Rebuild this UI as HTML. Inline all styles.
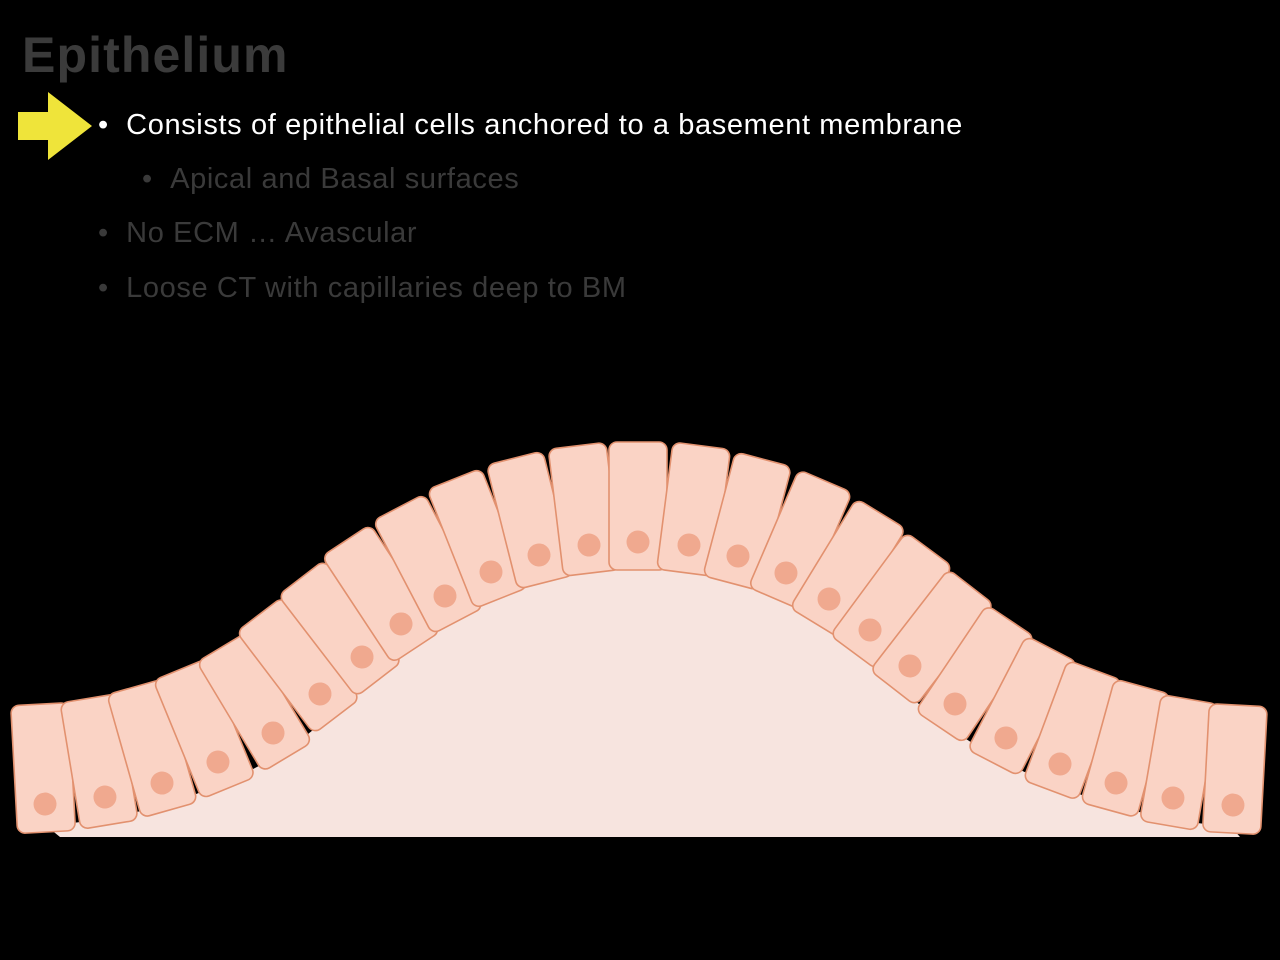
<!DOCTYPE html>
<html><head><style>
html,body{margin:0;padding:0;background:#000;width:1280px;height:960px;overflow:hidden}
body{position:relative;font-family:"Liberation Sans",sans-serif}
.t{position:absolute;white-space:nowrap}
</style></head><body>
<div class="t" style="left:22px;top:26px;font-size:50px;font-weight:bold;color:#3b3b3b;letter-spacing:1.1px">Epithelium</div>
<svg style="position:absolute;left:0;top:0" width="1280" height="960">
<polygon points="18,112 48,112 48,92 92,126 48,160 48,140 18,140" fill="#efe43a"/>
<g id="cells"></g>
</svg>
<div class="t" style="left:98px;top:109px;font-size:29px;color:#fff;letter-spacing:0.62px">•&nbsp;&nbsp;Consists of epithelial cells anchored to a basement membrane</div>
<div class="t" style="left:142px;top:163px;font-size:29px;color:#3a3a3a;letter-spacing:0.62px">•&nbsp;&nbsp;Apical and Basal surfaces</div>
<div class="t" style="left:98px;top:217px;font-size:29px;color:#3a3a3a;letter-spacing:0.62px">•&nbsp;&nbsp;No ECM … Avascular</div>
<div class="t" style="left:98px;top:272px;font-size:29px;color:#3a3a3a;letter-spacing:0.62px">•&nbsp;&nbsp;Loose CT with capillaries deep to BM</div>
<script>
(function(){
var g=document.getElementById('cells');
var N=[[45,804],[105,797],[162,783],[218,762],[273,733],[320,694],[362,657],[401,624],[445,596],[491,572],[539,555],[589,545],[638,542],[689,545],[738,556],[786,573],[829,599],[870,630],[910,666],[955,704],[1006,738],[1060,764],[1116,783],[1173,798],[1233,805]];
var H=128,W=58,top=100,html='',basal=[];
for(var i=0;i<N.length;i++){
 var a=N[Math.max(0,i-1)],b=N[Math.min(N.length-1,i+1)];
 var ang=Math.atan2(b[1]-a[1],b[0]-a[0])*0.92;
 if(i==0||i==N.length-1)ang*=0.5;
 var deg=ang*180/Math.PI;
 var nx=-Math.sin(ang),ny=Math.cos(ang);
 var off=top-H/2;
 var cx=N[i][0]-nx*off,cy=N[i][1]-ny*off;
 basal.push([N[i][0]+nx*(H-top),N[i][1]+ny*(H-top)]);
 html+='<g transform="translate('+cx.toFixed(1)+','+cy.toFixed(1)+') rotate('+deg.toFixed(2)+')">'+
 '<rect x="'+(-W/2)+'" y="'+(-H/2)+'" width="'+W+'" height="'+H+'" rx="8" fill="#fad3c5" stroke="#e2916f" stroke-width="1.6"/>'+
 '<circle cx="0" cy="'+off+'" r="11.5" fill="#f0a98f"/></g>';
}
var poly='60,837 ';basal.forEach(function(p){poly+=p[0].toFixed(1)+','+Math.min(p[1]-6,837).toFixed(1)+' ';});poly+='1240,837';
g.innerHTML='<polygon points="'+poly+'" fill="#f7e4df"/>'+html;
})();
</script>
</body></html>
